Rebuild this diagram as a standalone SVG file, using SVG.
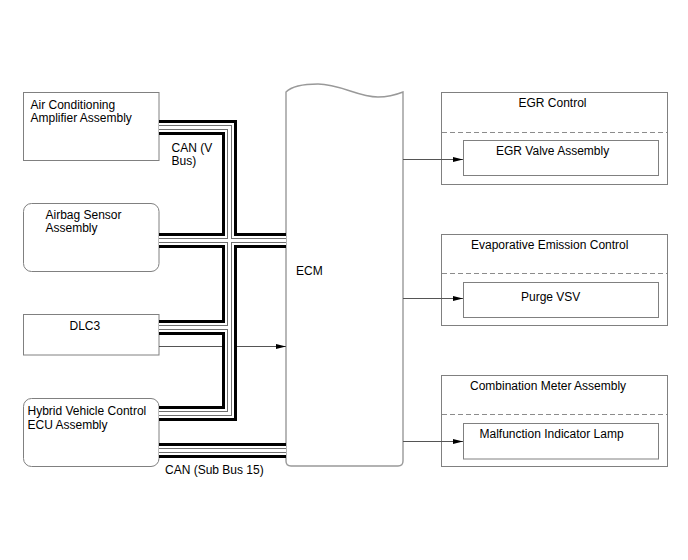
<svg xmlns="http://www.w3.org/2000/svg" width="688" height="560" viewBox="0 0 688 560">
<style>
text{font-family:"Liberation Sans",Arial,sans-serif;font-size:12px;fill:#000}
.box{fill:#fff;stroke:#808080;stroke-width:1}
.ecm{fill:#fff;stroke:#999;stroke-width:1.4}
.dash{stroke:#8c8c8c;stroke-width:1;stroke-dasharray:5,3;fill:none}
.bus{fill:none;stroke-linejoin:miter;stroke-linecap:butt}
.l1{stroke:#000;stroke-width:15}
.l2{stroke:#fff;stroke-width:9}
.l3{stroke:#707070;stroke-width:5}
.l4{stroke:#fff;stroke-width:3}
.wire{fill:none;stroke:#555;stroke-width:1}
</style>
<defs>
<marker id="arr" markerWidth="10" markerHeight="6" refX="10" refY="3" orient="auto" markerUnits="userSpaceOnUse">
<path d="M0,0.5 L10,3 L0,5.5 Z" fill="#000"/>
</marker>
<path id="buspath" d="M159,127.5 H229.5 V413.5 H159 M159,240.5 H286 M159,327.5 H229.5 M159,450.5 H286"/>
</defs>
<rect width="688" height="560" fill="#fff"/>
<g id="ac">
<rect class="box" x="23.5" y="92.5" width="135.5" height="68"/>
<text x="30.5" y="108.5">Air Conditioning</text>
<text x="30.5" y="122">Amplifier Assembly</text>
</g>
<g id="airbag">
<rect class="box" x="23.5" y="203.5" width="135.5" height="68" rx="8"/>
<text x="45.5" y="218.5">Airbag Sensor</text>
<text x="45.5" y="232">Assembly</text>
</g>
<g id="dlc3">
<rect class="box" x="23.5" y="314.5" width="135.5" height="40.5"/>
<text x="69.5" y="329.5">DLC3</text>
</g>
<g id="hybrid">
<rect class="box" x="23.5" y="398.5" width="135.5" height="68" rx="8"/>
<text x="27.5" y="414.5">Hybrid Vehicle Control</text>
<text x="27.5" y="428.5">ECU Assembly</text>
</g>
<g id="ecm">
<path class="ecm" d="M286,92 C292,86 305,84 318,84 C340,84 358,97 378,97 C390,97 398,94 403,92 V461 Q403,466 398,466 H291 Q286,466 286,461 Z"/>
<text x="296" y="274.5">ECM</text>
</g>
<g id="egr">
<rect class="box" x="441.5" y="92.5" width="226" height="92"/>
<text x="518.5" y="107">EGR Control</text>
<path class="dash" d="M442,132.5 H667"/>
<rect class="box" x="463.5" y="140.5" width="195" height="35"/>
<text x="496" y="154.5">EGR Valve Assembly</text>
</g>
<g id="evap">
<rect class="box" x="441.5" y="234.5" width="226" height="91"/>
<text x="471" y="248.5">Evaporative Emission Control</text>
<path class="dash" d="M442,273.5 H667"/>
<rect class="box" x="463.5" y="282.5" width="195" height="35"/>
<text x="521" y="300.5">Purge VSV</text>
</g>
<g id="combo">
<rect class="box" x="441.5" y="375.5" width="226" height="91"/>
<text x="470" y="389.5">Combination Meter Assembly</text>
<path class="dash" d="M442,414.5 H667"/>
<rect class="box" x="463.5" y="423.5" width="195" height="35.5"/>
<text x="479.5" y="437.5">Malfunction Indicator Lamp</text>
</g>
<g id="connectors">
<path class="wire" d="M159,346.5 H286" marker-end="url(#arr)"/>
<use href="#buspath" class="bus l1"/>
<use href="#buspath" class="bus l2"/>
<use href="#buspath" class="bus l3"/>
<use href="#buspath" class="bus l4"/>
<path class="wire" d="M403,159.5 H463" marker-end="url(#arr)"/>
<path class="wire" d="M403,298.5 H463" marker-end="url(#arr)"/>
<path class="wire" d="M403,441.5 H463" marker-end="url(#arr)"/>
<text x="171.5" y="151.5">CAN (V</text>
<text x="171.5" y="165">Bus)</text>
<text x="165" y="473.5">CAN (Sub Bus 15)</text>
</g>
</svg>
